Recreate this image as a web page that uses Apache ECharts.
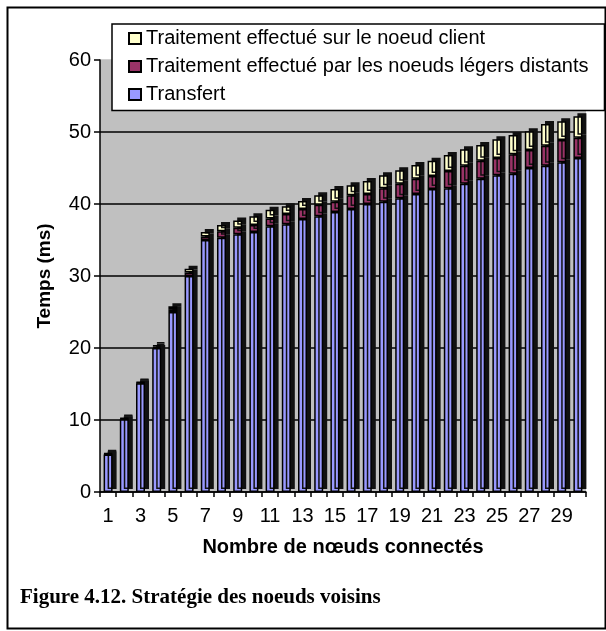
<!DOCTYPE html>
<html>
<head>
<meta charset="utf-8">
<script src="https://cdn.jsdelivr.net/npm/echarts@6/dist/echarts.min.js"></script>
<style>
html,body{margin:0;padding:0;background:#fff;}
#chart{width:606px;height:631px;}
</style>
</head>
<body>
<div id="chart"></div>
<script>
var categories = [];
for (var i = 1; i <= 30; i++) categories.push(String(i));

var seriesNames = ['Transfert', 'Traitement effectué par les noeuds légers distants', 'Traitement effectué sur le noeud client'];
var transfert = [5.2,10.1,15.1,20.0,25.0,30.0,35.0,35.3,35.8,36.1,36.9,37.2,37.9,38.3,38.9,39.3,40.0,40.3,40.8,41.4,42.1,42.2,42.8,43.5,44.0,44.2,45.0,45.3,45.8,46.4];
var distants = [0.1,0.1,0.1,0.2,0.4,0.5,0.5,0.9,0.9,1.0,1.1,1.4,1.4,1.6,1.4,1.9,1.4,1.9,2.0,2.1,1.8,2.4,2.5,2.5,2.4,2.7,2.5,2.8,3.1,2.8];
var client = [0.1,0.1,0.1,0.2,0.4,0.5,0.6,0.9,1.0,1.2,1.2,1.1,1.1,1.3,1.8,1.4,1.8,1.8,1.9,1.9,2.1,2.2,2.3,2.2,2.6,2.7,2.6,3.0,2.6,3.0];
var colors = ['#9999FF', '#993366', '#FFFFCC'];
var yAxisName = 'Temps (ms)';
var xAxisName = 'Nombre de nœuds connectés';
var caption = 'Figure 4.12. Stratégie des noeuds voisins';

var chart = echarts.init(document.getElementById('chart'));
var font = 'Liberation Sans, Arial, sans-serif';

function mk(name, data, color) {
  return {
    name: name, type: 'bar', stack: 'total', data: data, barWidth: 9,
    itemStyle: {
      color: color, borderColor: '#000', borderWidth: 1.5,
      shadowColor: '#111', shadowOffsetX: 4, shadowOffsetY: -3, shadowBlur: 0
    },
    emphasis: { disabled: true },
    animation: false
  };
}

chart.setOption({
  animation: false,
  grid: { left: 100, right: 20, top: 60, bottom: 139, show: true, backgroundColor: '#C0C0C0', borderWidth: 0 },
  legend: {
    orient: 'vertical', left: 112, top: 24,
    padding: [4.5, 16, 6, 16],
    itemWidth: 12, itemHeight: 11, itemGap: 8,
    backgroundColor: '#fff', borderColor: '#000', borderWidth: 1.5,
    icon: 'rect',
    textStyle: { fontFamily: font, fontSize: 20, color: '#000', lineHeight: 20 },
    data: [seriesNames[2], seriesNames[1], seriesNames[0]]
  },
  xAxis: {
    type: 'category', data: categories,
    name: xAxisName, nameLocation: 'middle', nameGap: 45,
    nameTextStyle: { fontFamily: font, fontSize: 20, fontWeight: 'bold', color: '#000' },
    axisLine: { lineStyle: { color: '#000', width: 1.5 } },
    axisTick: { show: true, interval: 0, length: 5, lineStyle: { color: '#000', width: 1.5 } },
    axisLabel: { interval: 1, fontFamily: font, fontSize: 20, color: '#000', margin: 14 }
  },
  yAxis: {
    type: 'value', min: 0, max: 60, interval: 10,
    name: yAxisName, nameLocation: 'middle', nameGap: 46, nameRotate: 90,
    nameTextStyle: { fontFamily: font, fontSize: 19, fontWeight: 'bold', color: '#000' },
    axisLine: { show: true, lineStyle: { color: '#000', width: 1.5 } },
    axisTick: { show: true, length: 6, lineStyle: { color: '#000', width: 1.5 } },
    axisLabel: { fontFamily: font, fontSize: 20, color: '#000', margin: 9 },
    splitLine: { show: true, lineStyle: { color: ['#000', '#000', '#000', '#000', '#000', '#000', '#C0C0C0'], width: 1.5 } }
  },
  series: [
    mk(seriesNames[0], transfert, colors[0]),
    mk(seriesNames[1], distants, colors[1]),
    mk(seriesNames[2], client, colors[2])
  ],
  graphic: [
    { type: 'rect', left: 5, top: 5, shape: { x: 0, y: 0, width: 598, height: 621 },
      style: { fill: 'none', stroke: '#000', lineWidth: 2 }, silent: true, z: 100 },
    { type: 'text', left: 20, top: 587,
      style: { text: caption, font: 'bold 21px "Liberation Serif", "Times New Roman", serif', fill: '#000' } }
  ]
});
</script>
</body>
</html>
